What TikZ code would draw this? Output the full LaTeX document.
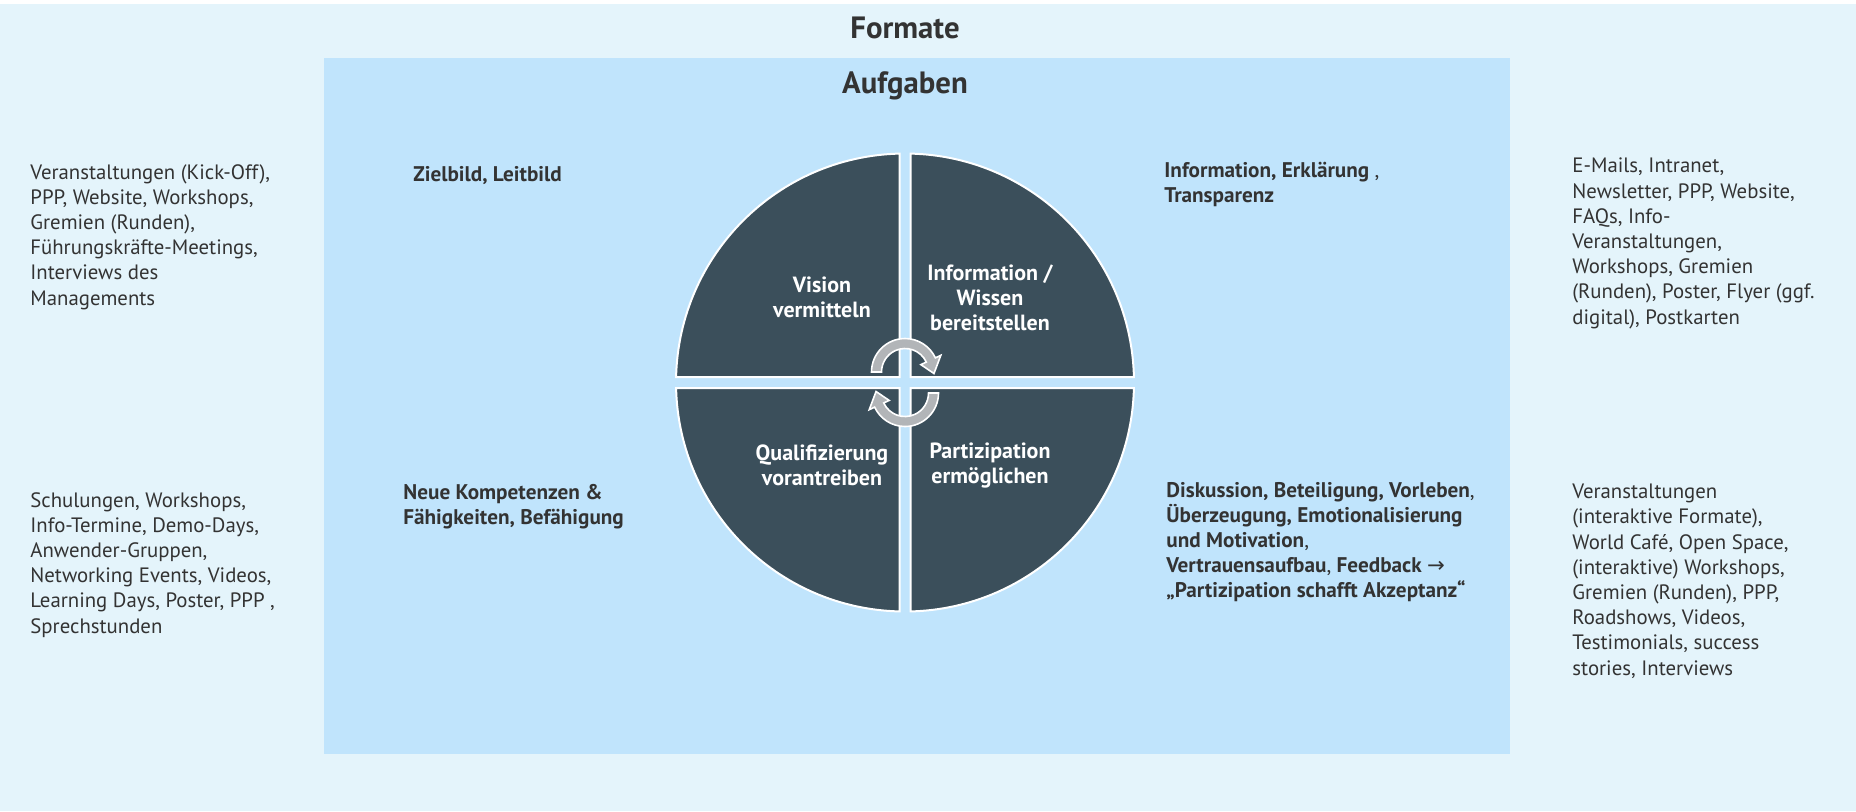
\documentclass[tikz,border=0pt]{standalone}
\usepackage{fontspec}
\setmainfont{PT Sans}
\newfontfamily\symfont{DejaVu Sans}
\definecolor{formbg}{HTML}{E4F4FB}
\definecolor{taskbg}{HTML}{C0E4FC}
\definecolor{quad}{HTML}{3B4F5B}
\definecolor{ink}{HTML}{333333}
\definecolor{cyclegray}{HTML}{B2B5B8}
% text nodes are placed by the baseline of their last line
\tikzset{
  fmt/.style={anchor=base west, align=left, inner sep=0pt, text=ink,
    font=\fontsize{10.4}{12.6}\selectfont},
  task/.style={fmt, font=\bfseries\fontsize{10.6}{12.5}\selectfont},
  quadlabel/.style={align=center, text=white, inner sep=0pt,
    font=\bfseries\fontsize{11}{12.5}\selectfont},
  heading/.style={anchor=base, inner sep=0pt, text=ink,
    font=\bfseries\fontsize{15.4}{17}\selectfont},
}

\begin{document}
\begin{tikzpicture}[x=0.5pt, y=0.5pt]
    \useasboundingbox (0, 0) rectangle (1856, -811);
    % backgrounds
    \fill[formbg](0, -4) rectangle (1856, -811);
    \fill[taskbg](324, -58) rectangle (1510, -754);
    \node[heading] (formate) at (905, -38) {Formate};
    \node[heading] (aufgaben) at (905, -93) {Aufgaben};

    % the four quadrants
    \begin{scope}[shift={(905, -382.5)}]
        \foreach \r in {0, 90, 180, 270}
            \filldraw[fill=quad, draw=white, line width=1pt, rotate=\r]
                (5.5, 5.5) -- (88.62:229) arc[start angle=88.62, end angle=1.38, radius=229] -- cycle;
        % cycle arrows
        \foreach \r in {0, 180}
            \filldraw[fill=cyclegray, draw=white, line width=0.8pt, rotate=\r, shift={(0, 10.5)}]
                (180:33.5) arc[start angle=180, end angle=25, radius=33.5] -- (25:39.5)
                -- (-3:29) -- (25:17.5) -- (25:23.5) arc[start angle=25, end angle=180, radius=23.5] -- cycle;
        \node[quadlabel] (vision) at (-83, 85) {Vision\\vermitteln};
        \node[quadlabel] (wissen) at (85, 85) {Information /\\Wissen\\bereitstellen};
        \node[quadlabel] (quali) at (-83, -83) {Qualifizierung\\vorantreiben};
        \node[quadlabel] (partizip) at (85, -83) {Partizipation\\ermöglichen};
    \end{scope}

    % Aufgaben
    \node[task] (ziel) at (413, -181) {Zielbild, Leitbild};
    \node[task] (info) at (1164, -202) {Information, Erklärung {\mdseries,}\\Transparenz};
    \node[task] (kompetenz) at (403, -524) {Neue Kompetenzen \&\\Fähigkeiten, Befähigung};
    \node[task] (diskussion) at (1166, -597) {Diskussion, Beteiligung, Vorleben{\mdseries,}\\
        Überzeugung, Emotionalisierung\\und Motivation{\mdseries,}\\
        Vertrauensaufbau{\mdseries,} Feedback {\mdseries\symfont →}\\„Partizipation schafft Akzeptanz“};

    % Formate
    \node[fmt] (fvision) at (30, -305) {Veranstaltungen (Kick-Off),\\PPP, Website, Workshops,\\
        Gremien (Runden),\\Führungskräfte-Meetings,\\Interviews des\\Managements};
    \node[fmt] (fquali) at (30, -633) {Schulungen, Workshops,\\Info-Termine, Demo-Days,\\
        Anwender-Gruppen,\\Networking Events, Videos,\\Learning Days, Poster, PPP ,\\Sprechstunden};
    \node[fmt] (fwissen) at (1572, -324) {E-Mails, Intranet,\\Newsletter, PPP, Website,\\
        FAQs, Info-\\Veranstaltungen,\\Workshops, Gremien\\(Runden), Poster, Flyer (ggf.\\digital), Postkarten};
    \node[fmt] (fpartizip) at (1572, -675) {Veranstaltungen\\(interaktive Formate),\\
        World Café, Open Space,\\(interaktive) Workshops,\\Gremien (Runden), PPP,\\
        Roadshows, Videos,\\Testimonials, success\\stories, Interviews};
\end{tikzpicture}
\end{document}
